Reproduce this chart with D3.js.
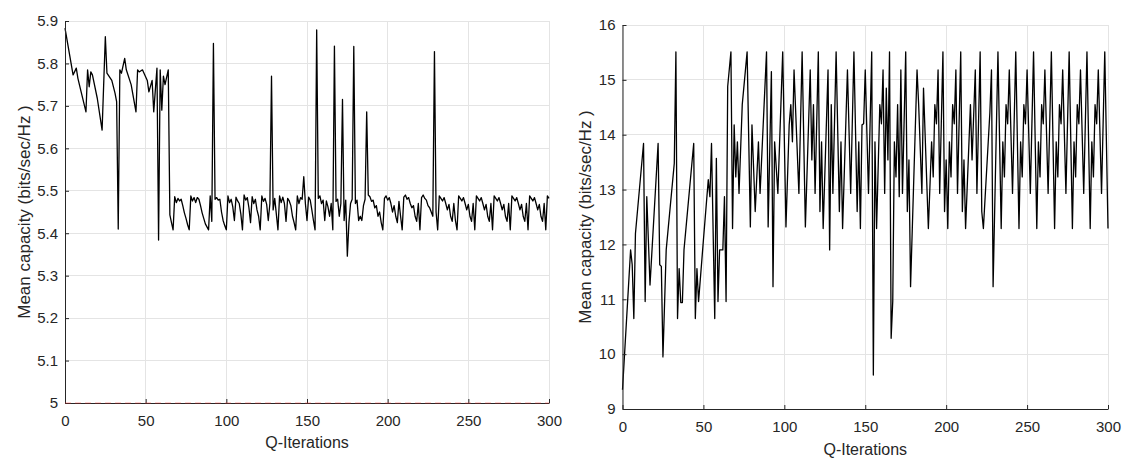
<!DOCTYPE html>
<html><head><meta charset="utf-8">
<script src="https://cdn.jsdelivr.net/npm/d3@7"></script>
<style>body{margin:0;background:#fff;} svg text{font-family:Arial,"Liberation Sans",Helvetica,sans-serif;}</style>
</head><body><svg id="c" width="1135" height="466"></svg>
<script>
// ---------- DATA ----------
const xTicks = [0, 50, 100, 150, 200, 250, 300];
const leftYTicks = [5, 5.1, 5.2, 5.3, 5.4, 5.5, 5.6, 5.7, 5.8, 5.9];
const rightYTicks = [9, 10, 11, 12, 13, 14, 15, 16];
const xLabel = "Q-Iterations";
const yLabel = "Mean capacity (bits/sec/Hz )";

// Left panel: vertices for iterations 0..64
const leftHeadIter = [0,5,7,8,10,13,14,15,16,17, 20,23,25,26,29,31,32,33,34,35,
  37,38,41,44,45,46,48,51,52,54, 55,57,58,59,60,61,62,64];
const leftHeadCap = [5.883,5.773,5.789,5.765,5.733,5.686,5.785,5.745,5.78,5.773,
  5.718,5.643,5.863,5.777,5.76,5.73,5.71,5.41,5.785,5.777,
  5.812,5.785,5.75,5.686,5.785,5.78,5.785,5.76,5.733,5.76,
  5.686,5.789,5.384,5.785,5.69,5.77,5.75,5.785];
// Left panel: one value per iteration 65..300
const leftTailCap = [
  5.443,5.425,5.408,5.486,5.472,5.482,5.476,5.480,5.465,5.448,
  5.435,5.420,5.408,5.488,5.476,5.484,5.472,5.484,5.480,5.465,
  5.448,5.435,5.422,5.415,5.408,5.488,5.428,5.847,5.480,5.484,
  5.478,5.480,5.450,5.430,5.418,5.408,5.488,5.472,5.480,5.462,
  5.430,5.485,5.476,5.470,5.445,5.408,5.490,5.478,5.484,5.460,
  5.425,5.486,5.470,5.480,5.455,5.440,5.408,5.488,5.475,5.482,
  5.468,5.430,5.470,5.770,5.455,5.482,5.445,5.408,5.488,5.472,
  5.485,5.470,5.428,5.482,5.476,5.465,5.440,5.425,5.408,5.488,
  5.470,5.484,5.480,5.533,5.470,5.430,5.485,5.478,5.455,5.430,
  5.408,5.879,5.482,5.488,5.470,5.478,5.430,5.476,5.462,5.440,
  5.470,5.408,5.841,5.475,5.480,5.440,5.470,5.715,5.430,5.478,
  5.346,5.425,5.470,5.480,5.840,5.470,5.478,5.430,5.440,5.430,
  5.465,5.480,5.686,5.490,5.486,5.475,5.478,5.460,5.465,5.440,
  5.450,5.425,5.408,5.482,5.488,5.478,5.484,5.470,5.450,5.465,
  5.440,5.425,5.475,5.440,5.408,5.485,5.490,5.480,5.484,5.470,
  5.460,5.465,5.440,5.428,5.470,5.408,5.484,5.490,5.482,5.478,
  5.465,5.460,5.450,5.440,5.828,5.450,5.408,5.488,5.482,5.476,
  5.484,5.470,5.455,5.468,5.440,5.428,5.470,5.430,5.408,5.488,
  5.482,5.476,5.484,5.470,5.455,5.468,5.440,5.428,5.470,5.408,
  5.488,5.482,5.476,5.484,5.470,5.455,5.468,5.440,5.428,5.470,
  5.408,5.488,5.482,5.476,5.484,5.470,5.455,5.468,5.440,5.428,
  5.470,5.408,5.488,5.482,5.476,5.484,5.470,5.455,5.468,5.440,
  5.428,5.470,5.408,5.488,5.482,5.476,5.484,5.470,5.455,5.468,
  5.440,5.428,5.470,5.408,5.488,5.482];
const leftRefLevel = [5];

// Right panel: vertices
const rightIter = [
  0,5,6,7,8,13,14,15,17,22,
  23,24,25,27,32,33,34,35,36,37,
  38,44,45,46,47,50,53,54,55,57,
  58,59,60,62,63,64,65,67,68,69,
  70,71,72,74,77,79,80,82,84,85,
  89,90,92,93,94,96,99,101,103,104,
  105,106,109,111,113,116,117,118,119,121,
  122,123,124,127,128,129,130,132,134,135,
  136,139,141,143,145,146,147,148,149,150,
  152,154,155,156,157,159,160,161,162,163,
  164,165,166,167,168,169,170,171,172,173,
  175,176,177,178,182,183,185,186,189,191,
  192,193,194,195,196,198,199,200,201,202,
  203,204,205,206,207,209,210,211,212,215,
  216,218,219,221,222,223,227,228,229,232,
  234,235,236,237,238,239,241,243,
  245,246,247,248,249,250,252,254,
  256,257,258,259,260,261,263,265,
  267,268,269,270,271,272,274,276,
  278,279,280,281,282,283,285,287,
  289,290,291,292,293,294,296,298,
  300];
const rightCap = [
  9.35,11.9,11.63,10.65,12.2,13.84,10.96,12.87,11.26,13.84,
  11.63,11.6,9.95,11.9,13.48,15.51,10.65,11.56,10.94,10.94,
  11.9,13.84,10.65,11.56,10.96,12.08,13.18,12.87,13.84,10.65,
  13.57,10.96,11.9,11.9,12.87,10.96,14.88,15.51,12.29,14.18,
  13.23,13.87,12.93,14.55,15.51,12.32,14.18,12.6,13.87,12.93,
  15.51,12.32,15.15,11.23,13.87,12.93,15.51,12.32,14.18,14.55,
  13.87,15.18,12.93,15.51,12.32,15.18,13.54,14.55,12.93,15.51,
  12.6,13.87,12.29,15.18,11.9,14.55,12.93,15.51,12.6,13.87,
  12.29,15.18,12.93,15.51,12.6,13.87,12.29,14.18,14.2,15.18,
  12.93,15.51,9.62,13.87,12.29,14.55,14.2,15.18,12.93,14.85,
  13.54,15.51,10.29,10.97,13.87,13.23,14.55,12.87,15.18,12.93,
  15.51,12.6,13.54,11.23,15.18,14.55,12.93,14.85,12.29,13.87,
  13.23,14.55,14.2,15.18,12.93,15.51,12.6,13.54,12.29,13.87,
  13.23,14.55,14.2,15.18,12.93,15.51,12.6,13.54,12.29,14.55,
  13.54,15.18,12.93,15.51,12.6,12.29,14.4,15.18,11.23,15.51,
  12.29,13.87,13.23,14.55,14.2,15.18,12.93,15.51,
  12.29,13.87,13.23,14.55,14.2,15.18,12.93,15.51,
  12.29,13.87,13.23,14.55,14.2,15.18,12.93,15.51,
  12.29,13.87,13.23,14.55,14.2,15.18,12.93,15.51,
  12.29,13.87,13.23,14.55,14.2,15.18,12.93,15.51,
  12.29,13.87,13.23,14.55,14.2,15.18,12.93,15.51,
  12.29];

// ---------- DRAW ----------
const leftIter = leftHeadIter.concat(d3.range(65, 301));
const leftCap = leftHeadCap.concat(leftTailCap);
const leftPts = leftIter.map((v, i) => [v, leftCap[i]]);
const rightPts = rightIter.map((v, i) => [v, rightCap[i]]);

const svg = d3.select('#c');
svg.append('rect').attr('width', 1135).attr('height', 466).attr('fill', '#fff');
const ink = '#262626';

function panel(o) {
  const x = d3.scaleLinear().domain([0, 300]).range([o.left, o.right]);
  const y = d3.scaleLinear().domain([o.yTicks[0], o.yTicks[o.yTicks.length - 1]]).range([o.bottom, o.top]);
  const g = svg.append('g');
  g.selectAll('line.gx').data(xTicks).join('line').attr('class', 'gx')
    .attr('x1', d => x(d)).attr('x2', d => x(d)).attr('y1', o.top).attr('y2', o.bottom)
    .attr('stroke', '#e4e4e4').attr('stroke-width', 1).attr('shape-rendering', 'crispEdges');
  g.selectAll('line.gy').data(o.yTicks).join('line').attr('class', 'gy')
    .attr('x1', o.left).attr('x2', o.right).attr('y1', d => y(d)).attr('y2', d => y(d))
    .attr('stroke', '#e4e4e4').attr('stroke-width', 1).attr('shape-rendering', 'crispEdges');

  const line = d3.line().x(d => x(d[0])).y(d => y(d[1]));
  g.append('path').datum(o.pts).attr('d', line).attr('fill', 'none')
    .attr('stroke', '#000').attr('stroke-width', 1.3).attr('stroke-linejoin', 'round');

  const xa = g.append('g').attr('transform', `translate(0,${o.bottom})`)
    .call(d3.axisBottom(x).tickValues(xTicks).tickSizeInner(-4).tickSizeOuter(0).tickPadding(12));
  const ya = g.append('g').attr('transform', `translate(${o.left},0)`)
    .call(d3.axisLeft(y).tickValues(o.yTicks).tickFormat(d => String(d)).tickSizeInner(-4).tickSizeOuter(0).tickPadding(7));
  [xa, ya].forEach(a => {
    a.attr('font-family', 'Arial,"Liberation Sans",sans-serif').attr('font-size', 15);
    a.selectAll('path,line').attr('stroke', ink);
    a.selectAll('text').attr('fill', ink);
  });

  if (o.ref) {
    g.selectAll('line.ref').data(o.ref).join('line').attr('class', 'ref')
      .attr('x1', o.left).attr('x2', o.right).attr('y1', d => y(d)).attr('y2', d => y(d))
      .attr('stroke', '#ff3333').attr('stroke-opacity', 0.45).attr('stroke-width', 1.2)
      .attr('stroke-dasharray', '6,4');
  }

  g.append('text').attr('x', (o.left + o.right) / 2).attr('y', o.xLabelY)
    .attr('text-anchor', 'middle').attr('font-size', 16).attr('fill', ink).text(xLabel);
  g.append('text').attr('transform', `translate(${o.yLabelX},${(o.top + o.bottom) / 2}) rotate(-90)`)
    .attr('text-anchor', 'middle').attr('font-size', 17).attr('fill', ink).text(yLabel);
}

panel({left: 65, right: 549, top: 21, bottom: 403, yTicks: leftYTicks, pts: leftPts,
  ref: leftRefLevel, xLabelY: 448, yLabelX: 30});
panel({left: 622.5, right: 1108, top: 25, bottom: 409, yTicks: rightYTicks, pts: rightPts,
  xLabelY: 455, yLabelX: 591});
</script>
</body></html>
